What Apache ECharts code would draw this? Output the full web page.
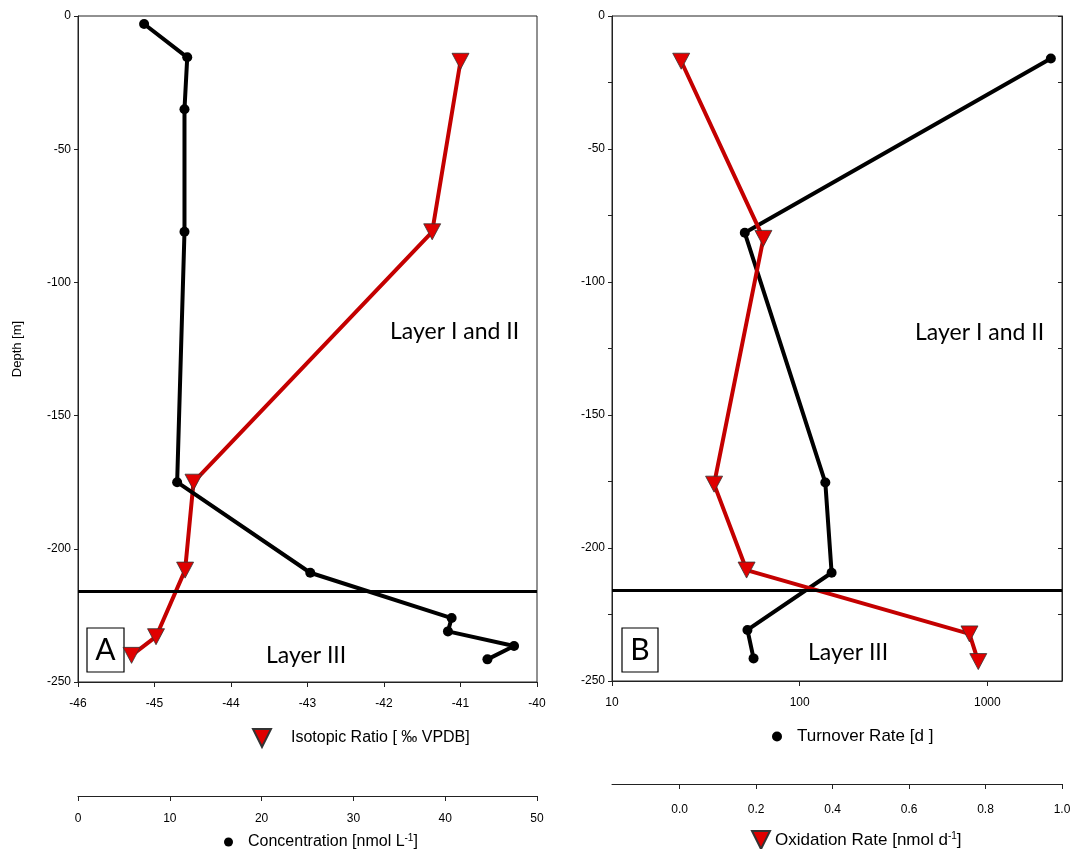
<!DOCTYPE html>
<html>
<head>
<meta charset="utf-8">
<script src="https://cdn.jsdelivr.net/npm/echarts@6/dist/echarts.min.js"></script>
<style>
  html, body { margin: 0; padding: 0; background: #fff; }
  #chart { width: 1074px; height: 849px; }
</style>
</head>
<body>
<div id="chart"></div>
<script>
// ---- Data ----
// Panel A: concentration (black dots) vs depth
const concDepth  = [-3, -15.5, -35, -81, -175, -209, -226, -231, -236.5, -241.5];
const concValues = [7.2, 11.9, 11.6, 11.6, 10.8, 25.3, 40.7, 40.3, 47.5, 44.6];
// Panel A: isotopic ratio (red triangles) vs depth
const isoDepth  = [-17, -81, -175, -208, -233, -240];
const isoValues = [-41.0, -41.37, -44.49, -44.6, -44.98, -45.3];
// Panel B: turnover rate (black dots, log axis) vs depth
const turnDepth  = [-16, -81.5, -175.4, -209.3, -230.8, -241.5];
const turnValues = [2180, 51, 137, 148, 52.7, 56.8];
// Panel B: oxidation rate (red triangles) vs depth
const oxDepth  = [-17, -83.6, -176, -208.3, -232.3, -242.7];
const oxValues = [0.004, 0.219, 0.09, 0.175, 0.758, 0.781];
// Layer boundary depth
const layerBoundary = -216;
// Tick labels
const isoTicks  = [-46, -45, -44, -43, -42, -41, -40];
const concTicks = [0, 10, 20, 30, 40, 50];
const turnTicks = [10, 100, 1000];
const oxTicks   = [0.0, 0.2, 0.4, 0.6, 0.8, 1.0];
const depthTicks = [0, -50, -100, -150, -200, -250];

// Series names
const N_ISO  = 'Isotopic Ratio [ ‰ VPDB]';
const N_CONC = 'Concentration [nmol L-1]';
const N_TURN = 'Turnover Rate [d ]';
const N_OX   = 'Oxidation Rate [nmol d-1]';

function zip(xs, ys) { return xs.map((x, i) => [x, ys[i]]); }

const FONT = 'Liberation Sans';
const LAYER_FONT = 'Lato';
const RED = '#e00000';
const RED_LINE = '#c40000';
const TRI = 'path://M0,0 L10,0 L5,10 Z';

const axisLineStyle = { show: true, onZero: false, lineStyle: { color: '#222', width: 1 } };
const lbl = { color: '#000', fontSize: 12, fontFamily: FONT };
const tick = { show: true, length: 5, lineStyle: { color: '#222' } };

const chart = echarts.init(document.getElementById('chart'), null, { renderer: 'canvas' });

const option = {
  animation: false,
  backgroundColor: '#fff',
  grid: [
    { left: 78, top: 16, width: 459, height: 666, show: true, borderColor: '#222', borderWidth: 1 },
    { left: 612, top: 16, width: 450, height: 665, show: true, borderColor: '#222', borderWidth: 1 }
  ],
  xAxis: [
    { // 0: isotopic ratio
      type: 'value', gridIndex: 0, position: 'bottom',
      min: isoTicks[0], max: isoTicks[isoTicks.length - 1], interval: 1,
      axisLine: axisLineStyle, axisTick: tick,
      axisLabel: Object.assign({ margin: 16 }, lbl), splitLine: { show: false }
    },
    { // 1: concentration
      type: 'value', gridIndex: 0, position: 'bottom', offset: 114,
      min: concTicks[0], max: concTicks[concTicks.length - 1], interval: 10,
      axisLine: axisLineStyle, axisTick: tick,
      axisLabel: Object.assign({ margin: 17 }, lbl), splitLine: { show: false }
    },
    { // 2: turnover (log)
      type: 'log', logBase: 10, gridIndex: 1, position: 'bottom',
      min: turnTicks[0], max: 2500,
      axisLine: axisLineStyle, axisTick: tick,
      axisLabel: Object.assign({
        margin: 16, showMaxLabel: false,
        formatter: v => (turnTicks.indexOf(Math.round(v)) >= 0 && Math.abs(Math.log10(v) - Math.round(Math.log10(v))) < 1e-6) ? String(Math.round(v)) : ''
      }, lbl),
      splitLine: { show: false }, minorTick: { show: false }
    },
    { // 3: oxidation
      type: 'value', gridIndex: 1, position: 'bottom', offset: 103,
      min: -0.177, max: 1.0,
      axisLine: axisLineStyle,
      axisTick: Object.assign({ customValues: oxTicks }, tick),
      axisLabel: Object.assign({ margin: 20, customValues: oxTicks, formatter: v => v.toFixed(1) }, lbl),
      splitLine: { show: false }
    }
  ],
  yAxis: [
    { // 0: depth panel A
      type: 'value', gridIndex: 0, position: 'left',
      min: depthTicks[depthTicks.length - 1], max: depthTicks[0], interval: 50,
      name: 'Depth [m]', nameLocation: 'middle', nameGap: 54, nameRotate: 90,
      nameTextStyle: { color: '#000', fontSize: 13, fontFamily: FONT },
      axisLine: axisLineStyle, axisTick: { show: true, length: 4, lineStyle: { color: '#222' } },
      axisLabel: Object.assign({ margin: 7 }, lbl), splitLine: { show: false }
    },
    { // 1: depth panel B left
      type: 'value', gridIndex: 1, position: 'left',
      min: depthTicks[depthTicks.length - 1], max: depthTicks[0], interval: 25,
      axisLine: axisLineStyle, axisTick: { show: true, length: 4, lineStyle: { color: '#222' } },
      axisLabel: Object.assign({ margin: 7, formatter: v => (v % 50 === 0 ? String(v) : '') }, lbl),
      splitLine: { show: false }
    },
    { // 2: depth panel B right (ticks only)
      type: 'value', gridIndex: 1, position: 'right',
      min: depthTicks[depthTicks.length - 1], max: depthTicks[0], interval: 25,
      axisLine: axisLineStyle, axisTick: { show: true, inside: true, length: 4, lineStyle: { color: '#222' } },
      axisLabel: { show: false }, splitLine: { show: false }
    }
  ],
  legend: [
    {
      data: [{ name: N_ISO, icon: TRI }], left: 252, top: 728, padding: 0, itemWidth: 18, itemHeight: 18,
      textStyle: { fontSize: 16, fontFamily: FONT, color: '#000', padding: [0, 0, 0, 15] },
      selectedMode: false
    },
    {
      data: [{ name: N_CONC, icon: 'circle' }], left: 224, top: 833, padding: 0, itemWidth: 9, itemHeight: 9,
      textStyle: { fontSize: 16, fontFamily: FONT, color: '#000', padding: [0, 0, 0, 10],
        rich: { sup: { fontSize: 10, fontFamily: FONT, color: '#000', verticalAlign: 'top', padding: [0, 0, 8, 0] } } },
      formatter: () => 'Concentration [nmol L{sup|-1}]',
      selectedMode: false
    },
    {
      data: [{ name: N_TURN, icon: 'circle' }], left: 772, top: 728, padding: 0, itemWidth: 10, itemHeight: 10,
      textStyle: { fontSize: 17, fontFamily: FONT, color: '#000', padding: [0, 0, 0, 10] },
      selectedMode: false
    },
    {
      data: [{ name: N_OX, icon: TRI }], left: 751, top: 830, padding: 0, itemWidth: 18, itemHeight: 18,
      textStyle: { fontSize: 17, fontFamily: FONT, color: '#000', padding: [0, 0, 0, 0],
        rich: { sup: { fontSize: 10, fontFamily: FONT, color: '#000', verticalAlign: 'top', padding: [0, 0, 8, 0] } } },
      formatter: () => 'Oxidation Rate [nmol d{sup|-1}]',
      selectedMode: false
    }
  ],
  series: [
    {
      name: N_CONC, type: 'line', xAxisIndex: 1, yAxisIndex: 0,
      data: zip(concValues, concDepth),
      symbol: 'circle', symbolSize: 10,
      lineStyle: { color: '#000', width: 4 }, itemStyle: { color: '#000' },
      z: 3,
      markLine: {
        silent: true, symbol: 'none', label: { show: false },
        lineStyle: { color: '#000', width: 3, type: 'solid' },
        data: [{ yAxis: layerBoundary }]
      }
    },
    {
      name: N_ISO, type: 'line', xAxisIndex: 0, yAxisIndex: 0,
      data: zip(isoValues, isoDepth),
      symbol: 'triangle', symbolRotate: 180, symbolSize: [17, 16],
      lineStyle: { color: RED_LINE, width: 4 },
      itemStyle: { color: RED, borderColor: '#333', borderWidth: 0.8 },
      z: 2
    },
    {
      name: N_TURN, type: 'line', xAxisIndex: 2, yAxisIndex: 1,
      data: zip(turnValues, turnDepth),
      symbol: 'circle', symbolSize: 10,
      lineStyle: { color: '#000', width: 4 }, itemStyle: { color: '#000' },
      z: 2,
      markLine: {
        silent: true, symbol: 'none', label: { show: false },
        lineStyle: { color: '#000', width: 3, type: 'solid' },
        data: [{ yAxis: layerBoundary }]
      }
    },
    {
      name: N_OX, type: 'line', xAxisIndex: 3, yAxisIndex: 1,
      data: zip(oxValues, oxDepth),
      symbol: 'triangle', symbolRotate: 180, symbolSize: [17, 16],
      lineStyle: { color: RED_LINE, width: 4 },
      itemStyle: { color: RED, borderColor: '#333', borderWidth: 0.8 },
      z: 3
    }
  ],
  graphic: [
    { type: 'text', left: 390, top: 320, style: { text: 'Layer I and II', fontSize: 23, fontFamily: LAYER_FONT, fill: '#000' } },
    { type: 'text', left: 915, top: 321, style: { text: 'Layer I and II', fontSize: 23, fontFamily: LAYER_FONT, fill: '#000' } },
    { type: 'text', left: 266, top: 644, style: { text: 'Layer III', fontSize: 23, fontFamily: LAYER_FONT, fill: '#000' } },
    { type: 'text', left: 808, top: 641, style: { text: 'Layer III', fontSize: 23, fontFamily: LAYER_FONT, fill: '#000' } },
    { type: 'rect', shape: { x: 87, y: 628, width: 37, height: 44 }, style: { fill: '#fff', stroke: '#000', lineWidth: 1.2 } },
    { type: 'text', x: 105.5, y: 650, style: { text: 'A', fontSize: 30, fontFamily: LAYER_FONT, fill: '#000', align: 'center', verticalAlign: 'middle' } },
    { type: 'rect', shape: { x: 622, y: 628, width: 36, height: 44 }, style: { fill: '#fff', stroke: '#000', lineWidth: 1.2 } },
    { type: 'text', x: 640, y: 650, style: { text: 'B', fontSize: 30, fontFamily: LAYER_FONT, fill: '#000', align: 'center', verticalAlign: 'middle' } }
  ]
};

chart.setOption(option);
</script>
</body>
</html>
